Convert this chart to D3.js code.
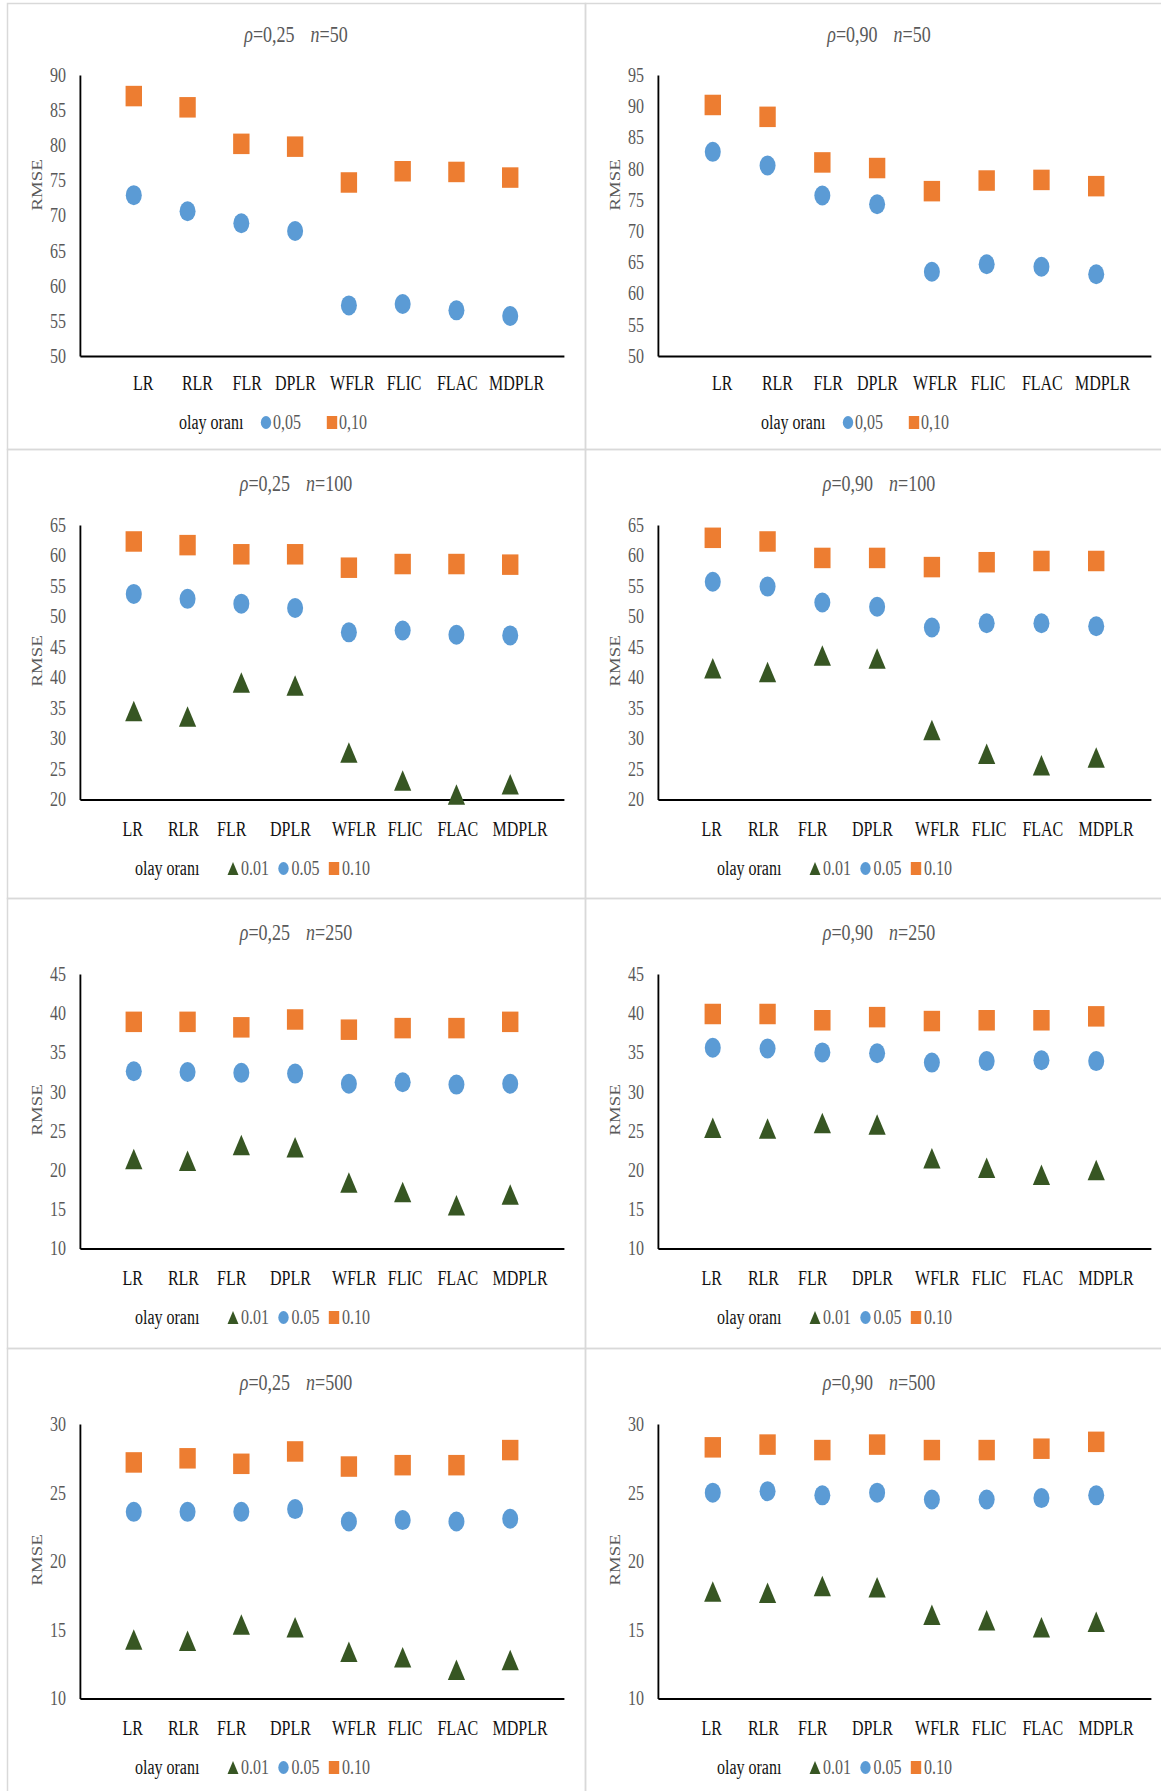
<!DOCTYPE html>
<html>
<head>
<meta charset="utf-8">
<script src="https://cdn.jsdelivr.net/npm/d3@7"></script>
<style>
body { margin: 0; background: #fff; }
svg { display: block; }
</style>
</head>
<body>
<div id="chart"></div>
<script>
// methods on the x axis
var methods = ["LR", "RLR", "FLR", "DPLR", "WFLR", "FLIC", "FLAC", "MDPLR"];

// y tick labels
var ticksA = [50, 55, 60, 65, 70, 75, 80, 85, 90];
var ticksB = [50, 55, 60, 65, 70, 75, 80, 85, 90, 95];
var ticksC = [20, 25, 30, 35, 40, 45, 50, 55, 60, 65];
var ticksD = [10, 15, 20, 25, 30, 35, 40, 45];
var ticksE = [10, 15, 20, 25, 30];

// legend labels
var legend2 = ["0,05", "0,10"];
var legend3 = ["0.01", "0.05", "0.10"];

// rho=0,25 n=50
var r25n50_05 = [72.9, 70.6, 68.9, 67.8, 57.2, 57.4, 56.5, 55.7];
var r25n50_10 = [87.0, 85.4, 80.2, 79.8, 74.7, 76.3, 76.2, 75.4];
// rho=0,90 n=50
var r90n50_05 = [82.7, 80.5, 75.7, 74.3, 63.5, 64.7, 64.3, 63.1];
var r90n50_10 = [90.2, 88.3, 81.0, 80.1, 76.4, 78.1, 78.2, 77.2];
// rho=0,25 n=100
var r25n100_01 = [34.5, 33.6, 39.2, 38.7, 27.7, 23.1, 20.8, 22.5];
var r25n100_05 = [53.7, 52.9, 52.1, 51.4, 47.4, 47.7, 47.0, 46.9];
var r25n100_10 = [62.3, 61.7, 60.2, 60.2, 58.0, 58.6, 58.6, 58.5];
// rho=0,90 n=100
var r90n100_01 = [41.5, 40.9, 43.6, 43.1, 31.4, 27.5, 25.6, 26.9];
var r90n100_05 = [55.7, 54.9, 52.3, 51.6, 48.2, 48.9, 48.9, 48.4];
var r90n100_10 = [62.9, 62.3, 59.6, 59.6, 58.1, 58.9, 59.1, 59.1];
// rho=0,25 n=250
var r25n250_01 = [21.4, 21.2, 23.2, 22.9, 18.4, 17.2, 15.5, 16.9];
var r25n250_05 = [32.6, 32.5, 32.4, 32.3, 31.0, 31.2, 30.9, 31.0];
var r25n250_10 = [38.9, 38.9, 38.2, 39.2, 37.9, 38.1, 38.1, 38.9];
// rho=0,90 n=250
var r90n250_01 = [25.4, 25.3, 26.0, 25.8, 21.5, 20.3, 19.4, 20.0];
var r90n250_05 = [35.6, 35.5, 35.0, 34.9, 33.7, 33.9, 34.0, 33.9];
var r90n250_10 = [39.9, 39.9, 39.1, 39.5, 39.0, 39.1, 39.1, 39.6];
// rho=0,25 n=500
var r25n500_01 = [14.3, 14.2, 15.4, 15.2, 13.4, 13.0, 12.1, 12.8];
var r25n500_05 = [23.6, 23.6, 23.6, 23.8, 22.9, 23.0, 22.9, 23.1];
var r25n500_10 = [27.2, 27.5, 27.1, 28.0, 26.9, 27.0, 27.0, 28.1];
// rho=0,90 n=500
var r90n500_01 = [17.8, 17.7, 18.2, 18.1, 16.1, 15.7, 15.2, 15.6];
var r90n500_05 = [25.0, 25.1, 24.8, 25.0, 24.5, 24.5, 24.6, 24.8];
var r90n500_10 = [28.3, 28.5, 28.1, 28.5, 28.1, 28.1, 28.2, 28.7];

var panels = [
    { rho: "0,25", n: "50", ticks: ticksA, legend: legend2, series: [["circle", r25n50_05], ["square", r25n50_10]] },
    { rho: "0,90", n: "50", ticks: ticksB, legend: legend2, series: [["circle", r90n50_05], ["square", r90n50_10]] },
    { rho: "0,25", n: "100", ticks: ticksC, legend: legend3, series: [["triangle", r25n100_01], ["circle", r25n100_05], ["square", r25n100_10]] },
    { rho: "0,90", n: "100", ticks: ticksC, legend: legend3, series: [["triangle", r90n100_01], ["circle", r90n100_05], ["square", r90n100_10]] },
    { rho: "0,25", n: "250", ticks: ticksD, legend: legend3, series: [["triangle", r25n250_01], ["circle", r25n250_05], ["square", r25n250_10]] },
    { rho: "0,90", n: "250", ticks: ticksD, legend: legend3, series: [["triangle", r90n250_01], ["circle", r90n250_05], ["square", r90n250_10]] },
    { rho: "0,25", n: "500", ticks: ticksE, legend: legend3, series: [["triangle", r25n500_01], ["circle", r25n500_05], ["square", r25n500_10]] },
    { rho: "0,90", n: "500", ticks: ticksE, legend: legend3, series: [["triangle", r90n500_01], ["circle", r90n500_05], ["square", r90n500_10]] }
];

var colors = { triangle: "#375623", circle: "#5b9bd5", square: "#ed7d31" };

// the picture is squeezed sideways, so each panel is drawn wide and scaled
var sx = 0.8;
var width = 1161, height = 1791;
var panelX = [7, 585];
var panelY = [3, 449, 898, 1348];
var panelH = [446, 449, 450, 450];
var font = "'Liberation Serif', 'Times New Roman', serif";

// method names are not quite under their markers (hand-placed in the original)
var nudgeTop = [9, 9.5, 5.5, 0, 3, 1, 0.5, 6];
var nudgeRest = [-1.5, -4.5, -10, -5, 5, 2, 1, 9.5];

// triangle that sits in its box like the Excel marker
var symTriangle = {
    draw: function(ctx, size) {
        var h = Math.sqrt(size);
        var w = h * 1.05;
        ctx.moveTo(0, -h / 2);
        ctx.lineTo(w / 2, h / 2);
        ctx.lineTo(-w / 2, h / 2);
        ctx.closePath();
    }
};

function symbolFor(shape, s) {
    if (shape === "circle") return d3.symbol().type(d3.symbolCircle).size(Math.PI * s * s / 4)();
    if (shape === "square") return d3.symbol().type(d3.symbolSquare).size(s * s)();
    return d3.symbol().type(symTriangle).size(s * s)();
}

var svg = d3.select("#chart")
    .append("svg")
    .attr("width", width)
    .attr("height", height);

svg.append("rect").attr("width", width).attr("height", height).attr("fill", "#fff");

panels.forEach(function(p, k) {
    var col = k % 2;
    var row = Math.floor(k / 2);

    var g = svg.append("g")
        .attr("transform", "translate(" + panelX[col] + "," + panelY[row] + ")");

    g.append("rect")
        .attr("x", 0.5).attr("y", 0.5)
        .attr("width", col ? 580 : 578)
        .attr("height", panelH[row])
        .attr("fill", "none")
        .attr("stroke", "#d9d9d9")
        .attr("stroke-width", 1.5);

    var inner = g.append("g").attr("transform", "scale(" + sx + ",1)");

    var plotTop = row === 0 ? 72 : 76;
    var plotBottom = row === 0 ? 353 : 350.5;
    var plotRight = col ? 566 : 557;

    var x = d3.scaleLinear().domain([0, 9]).range([73 / sx, plotRight / sx]);
    var y = d3.scaleLinear()
        .domain([p.ticks[0], p.ticks[p.ticks.length - 1]])
        .range([plotBottom, plotTop]);

    // title
    var title = inner.append("text")
        .attr("x", (col ? 294 : 289) / sx)
        .attr("y", row === 0 ? 39.5 : 42)
        .attr("text-anchor", "middle")
        .attr("font-family", font)
        .attr("font-size", 22.5)
        .attr("fill", "#595959");
    title.append("tspan").attr("font-style", "italic").text("ρ");
    title.append("tspan").text("=" + p.rho);
    title.append("tspan").attr("font-style", "italic").attr("dx", 20).text("n");
    title.append("tspan").text("=" + p.n);

    // y axis
    var yAxis = inner.append("g")
        .attr("transform", "translate(" + x(0) + ",0)")
        .call(d3.axisLeft(y).tickValues(p.ticks).tickSize(0).tickSizeOuter(0).tickPadding(17.5));
    yAxis.select(".domain").attr("stroke", "#000").attr("stroke-width", 2.3);
    yAxis.selectAll("text")
        .attr("font-family", font)
        .attr("font-size", 20)
        .attr("fill", "#595959");

    // x axis with method names
    var nudge = row === 0 ? nudgeTop : nudgeRest;
    var xAxis = inner.append("g")
        .attr("transform", "translate(0," + plotBottom + ")")
        .call(d3.axisBottom(x)
            .tickValues(d3.range(1, methods.length + 1))
            .tickFormat(function(d) { return methods[d - 1]; })
            .tickSize(0).tickSizeOuter(0).tickPadding(row === 0 ? 20 : 22));
    xAxis.select(".domain").attr("stroke", "#000").attr("stroke-width", 2.2);
    xAxis.selectAll("text")
        .attr("x", function(d) { return nudge[d - 1] / sx; })
        .attr("font-family", font)
        .attr("font-size", 20)
        .attr("fill", "#111");

    // RMSE label
    inner.append("text")
        .attr("transform", "translate(" + (30 / sx) + "," + (row === 0 ? 182 : 212) + ") rotate(-90)")
        .attr("text-anchor", "middle")
        .attr("dy", "0.35em")
        .attr("font-family", font)
        .attr("font-size", 19)
        .attr("fill", "#595959")
        .text("RMSE");

    // markers
    p.series.forEach(function(s) {
        var shape = s[0];
        var pts = s[1].map(function(v, i) { return { i: i + 1, v: v }; });
        inner.append("g")
            .selectAll("path")
            .data(pts)
            .enter()
            .append("path")
            .attr("d", symbolFor(shape, shape === "circle" ? 20 : 20.5))
            .attr("transform", function(d) { return "translate(" + x(d.i) + "," + y(d.v) + ")"; })
            .attr("fill", colors[shape]);
    });

    // legend
    var shift = col ? 4 : 0;
    var legY = 419;
    var three = p.series.length === 3;
    var labelStart = (three ? 128 : 172) + shift;
    var markX = three ? [226, 276.5, 327] : [259, 325];
    var leg = inner.append("g");
    leg.append("text")
        .attr("x", labelStart / sx)
        .attr("y", legY + 6.7)
        .attr("font-family", font)
        .attr("font-size", 20)
        .attr("fill", "#111")
        .text("olay oranı");
    p.series.forEach(function(s, j) {
        var mx = (markX[j] + shift) / sx;
        leg.append("path")
            .attr("d", symbolFor(s[0], 13))
            .attr("transform", "translate(" + mx + "," + (legY + 0.5) + ")")
            .attr("fill", colors[s[0]]);
        leg.append("text")
            .attr("x", mx + (three ? 8 : 7) / sx)
            .attr("y", legY + 6.7)
            .attr("font-family", font)
            .attr("font-size", 20)
            .attr("fill", "#595959")
            .text(p.legend[j]);
    });
});
</script>
</body>
</html>
